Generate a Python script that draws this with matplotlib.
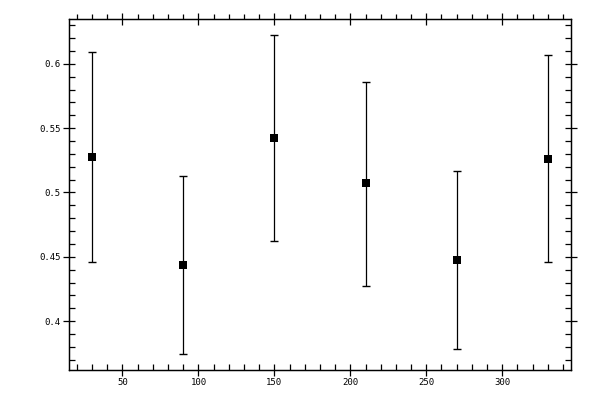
import matplotlib
matplotlib.use("Agg")
import matplotlib.pyplot as plt
from matplotlib.ticker import MultipleLocator

x_vals = [30, 90, 150, 210, 270, 330]
y_vals = [0.5275, 0.4433, 0.5423, 0.5072, 0.4472, 0.526]
err_low = [0.0818, 0.0686, 0.0803, 0.0798, 0.0686, 0.0803]
err_high = [0.0819, 0.0696, 0.0803, 0.0788, 0.0694, 0.0805]
x_ticks = [50, 100, 150, 200, 250, 300]
y_ticks = [0.4, 0.45, 0.5, 0.55, 0.6]
y_tick_labels = ["0.4", "0.45", "0.5", "0.55", "0.6"]

fig = plt.figure(figsize=(6, 4), dpi=100)
rect = [0.1155, 0.075, 0.951 - 0.1155, 0.952 - 0.075]
ax = fig.add_axes(rect)

ax.errorbar(x_vals, y_vals, yerr=[err_low, err_high], fmt='none',
            ecolor='black', elinewidth=0.9, capsize=2.6, capthick=1.0)
ax.plot(x_vals, y_vals, linestyle='none', marker='s', color='black',
        markersize=6, markeredgewidth=0)

ax.set_xlim(15, 345)
ax.set_ylim(0.362, 0.6347)

ax.set_xticks(x_ticks)
ax.set_xticklabels([str(v) for v in x_ticks])
ax.set_yticks(y_ticks)
ax.set_yticklabels(y_tick_labels)
ax.xaxis.set_minor_locator(MultipleLocator(10))
ax.yaxis.set_minor_locator(MultipleLocator(0.01))

for sp in ax.spines.values():
    sp.set_linewidth(0.9)

ax.tick_params(which='major', direction='inout', length=8, width=0.9,
               top=False, right=True, labelsize=6.5, pad=2)
ax.tick_params(which='minor', direction='in', length=4, width=0.9,
               top=False, right=True)

# top axis: minor ticks point outward
ax2 = ax.twiny()
ax2.set_xlim(ax.get_xlim())
ax2.set_xticks(x_ticks)
ax2.set_xticklabels([])
ax2.xaxis.set_minor_locator(MultipleLocator(10))
ax2.tick_params(which='major', direction='inout', length=8, width=0.9)
ax2.tick_params(which='minor', direction='out', length=3.5, width=0.9)
for sp in ax2.spines.values():
    sp.set_linewidth(0.9)

for lbl in ax.get_xticklabels() + ax.get_yticklabels():
    lbl.set_family('DejaVu Sans Mono')

fig.savefig("out.png", dpi=100)
